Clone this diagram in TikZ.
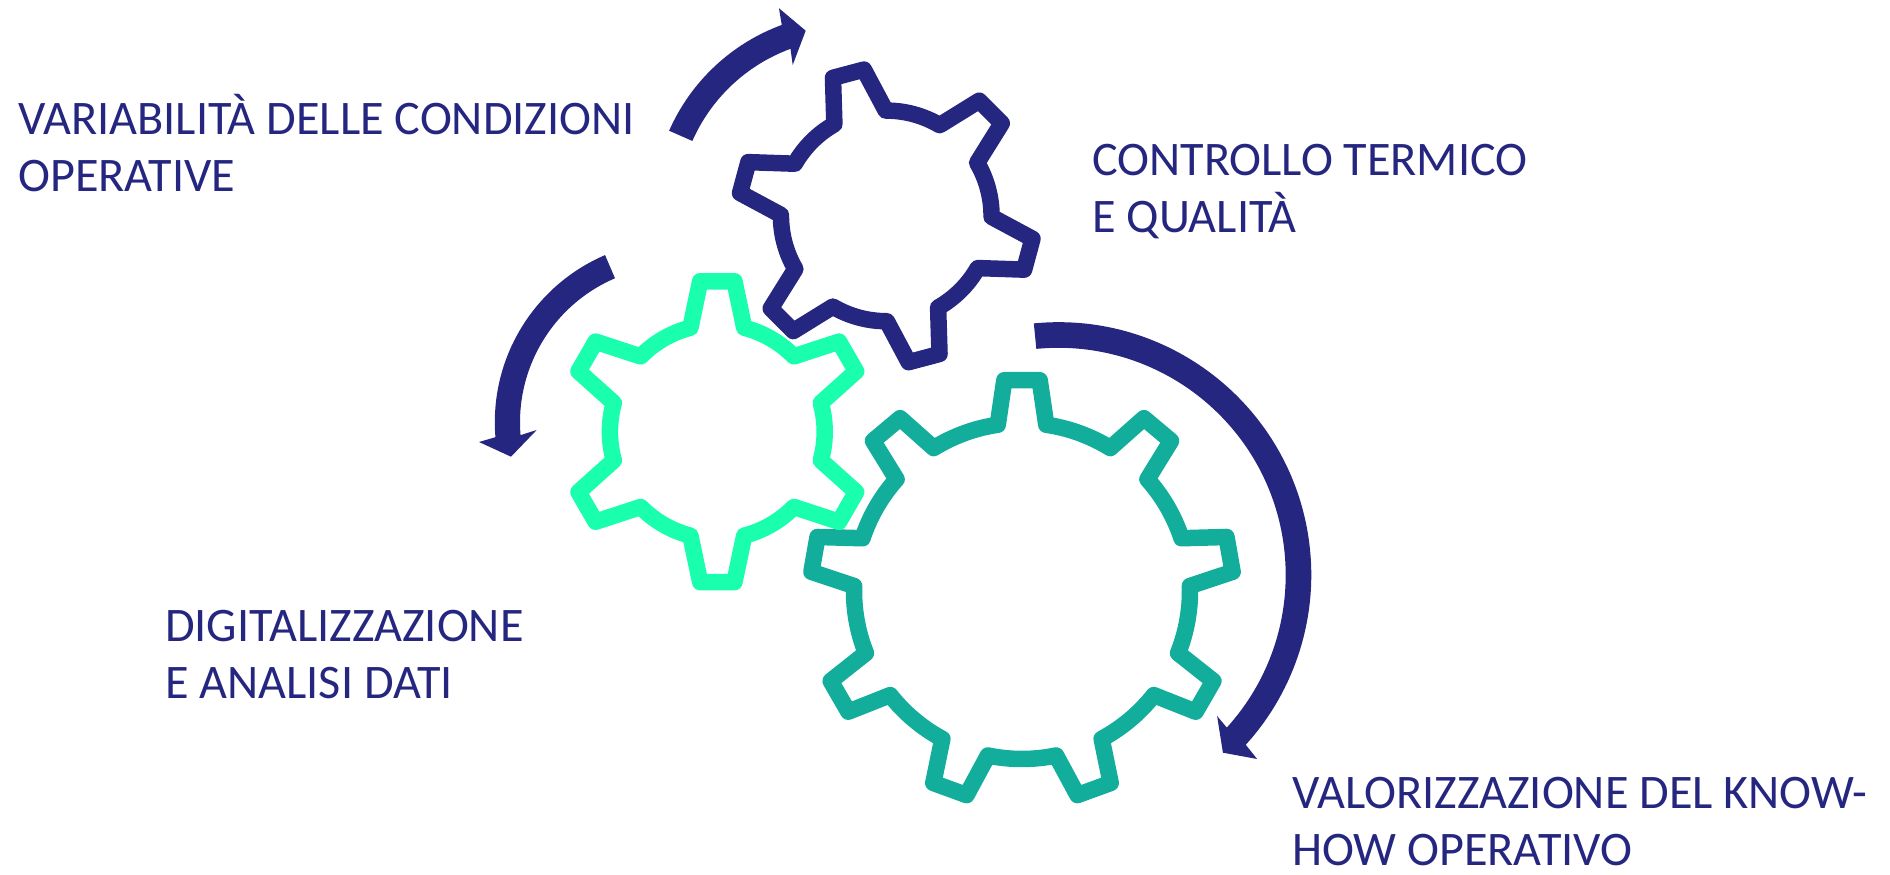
\documentclass[tikz,border=0pt]{standalone}
\usepackage{fontspec}
\setmainfont{Carlito}
\definecolor{navyc}{HTML}{25267F}
\definecolor{mintc}{HTML}{19FFAE}
\definecolor{tealc}{HTML}{12AE9B}
\tikzset{
  gearline/.style={line width=16.5pt,line join=round,fill=none},
  label/.style={text=navyc,inner sep=0pt,anchor=base west,align=left,font=\fontsize{48.2}{57}\selectfont},
}
% colour, cx, cy, top-tooth angle, teeth, tip radius, tip half angle, root radius, root half angle
\newcommand{\gearshape}[9]{%
  \pgfmathsetmacro{\gstep}{360/#5}%
  \pgfmathsetmacro{\glast}{#5-1}%
  \begin{scope}[shift={(#2,#3)}]
    \draw[gearline,draw=#1] ({#4+#9}:#8pt)
      foreach \i [evaluate=\i as \ga using #4-\i*\gstep,
                  evaluate=\i as \gb using #4-\i*\gstep-#9,
                  evaluate=\i as \gc using #4-(\i+1)*\gstep+#9] in {0,...,\glast} {
        -- ({\ga+#7}:#6pt) -- ({\ga-#7}:#6pt) -- ({\gb}:#8pt)
        arc[start angle=\gb,end angle=\gc,radius=#8pt]
      } -- cycle;
  \end{scope}}
\begin{document}
\begin{tikzpicture}[x=1pt,y=1pt]
\useasboundingbox (0,0) rectangle (1890,875);
\gearshape{tealc}{1022}{284}{90}{9}{211.5}{4.8}{168}{8.3}
\gearshape{mintc}{717.3}{443.3}{90}{6}{151.4}{6.5}{107.4}{14.5}
\gearshape{navyc}{886.25}{659.1}{104.9}{6}{148}{6.2}{105.3}{14.6}
\coordinate (a) at (850,664.5);
\coordinate (b) at (676.7,452.7);
\coordinate (c) at (1058.5,300);
\fill[navyc] ([shift={(156.2:197.7pt)}]a) arc[start angle=156.2,end angle=110.2,radius=197.7pt]
  -- (779,866.7) -- (805.7,844.3) -- (792.7,810)
  -- ([shift={(110.2:172.3pt)}]a) arc[start angle=110.2,end angle=156.2,radius=172.3pt] -- cycle;
\fill[navyc] ([shift={(113.2:181.9pt)}]b) arc[start angle=113.2,end angle=184.7,radius=181.9pt]
  -- (479,433) -- (511,418.3) -- (536.7,445)
  -- ([shift={(184.7:156.7pt)}]b) arc[start angle=184.7,end angle=113.2,radius=156.7pt] -- cycle;
\fill[navyc] ([shift={(95.6:252.8pt)}]c) arc[start angle=95.6,end angle=-42.2,radius=252.8pt]
  -- (1257.1,116) -- (1222.9,122.3) -- (1217.1,159)
  -- ([shift={(-42.2:227.2pt)}]c) arc[start angle=-42.2,end angle=95.6,radius=227.2pt] -- cycle;
\node[label] (t1) at (18,683) {VARIABILITÀ DELLE CONDIZIONI\\OPERATIVE};
\node[label] (t2) at (1092,642) {CONTROLLO TERMICO\\E QUALITÀ};
\node[label] (t3) at (165,176) {DIGITALIZZAZIONE\\E ANALISI DATI};
\node[label] (t4) at (1292,9) {VALORIZZAZIONE DEL KNOW-\\HOW OPERATIVO};
\end{tikzpicture}
\end{document}
